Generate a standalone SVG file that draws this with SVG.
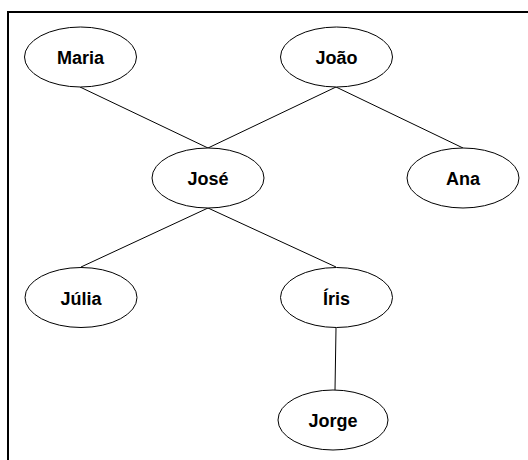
<svg xmlns="http://www.w3.org/2000/svg" width="528" height="460" viewBox="0 0 528 460">
<style>
.node ellipse{fill:#fff;stroke:#000;stroke-width:1}
.node text{font-family:"Liberation Sans",Arial,sans-serif;font-weight:bold;font-size:18px;text-anchor:middle;fill:#000}
#edges line{stroke:#000;stroke-width:1}
.frame{stroke:#000;stroke-width:2;fill:none}
</style>
<rect width="528" height="460" fill="#fff"/>
<path class="frame" d="M8,460 V12 H528"/>
<g id="edges">
<line x1="80" y1="87" x2="208" y2="148"/>
<line x1="336" y1="87" x2="208" y2="148"/>
<line x1="336" y1="87" x2="463" y2="148"/>
<line x1="208" y1="208" x2="81" y2="267"/>
<line x1="208" y1="208" x2="336" y2="267"/>
<line x1="336" y1="328" x2="335" y2="390"/>
</g>
<g id="maria" class="node"><ellipse cx="80.5" cy="57" rx="56" ry="30"/><text x="80.5" y="64">Maria</text></g>
<g id="joao" class="node"><ellipse cx="336.5" cy="57" rx="56" ry="30"/><text x="336.5" y="64">João</text></g>
<g id="jose" class="node"><ellipse cx="208" cy="178" rx="56" ry="30"/><text x="208" y="185">José</text></g>
<g id="ana" class="node"><ellipse cx="463" cy="178" rx="56" ry="30"/><text x="463" y="185">Ana</text></g>
<g id="julia" class="node"><ellipse cx="81" cy="297.5" rx="56" ry="30"/><text x="81" y="304.5">Júlia</text></g>
<g id="iris" class="node"><ellipse cx="336.5" cy="297.5" rx="56" ry="30"/><text x="336.5" y="304.5">Íris</text></g>
<g id="jorge" class="node"><ellipse cx="333" cy="420" rx="55" ry="30"/><text x="333" y="427">Jorge</text></g>
</svg>
